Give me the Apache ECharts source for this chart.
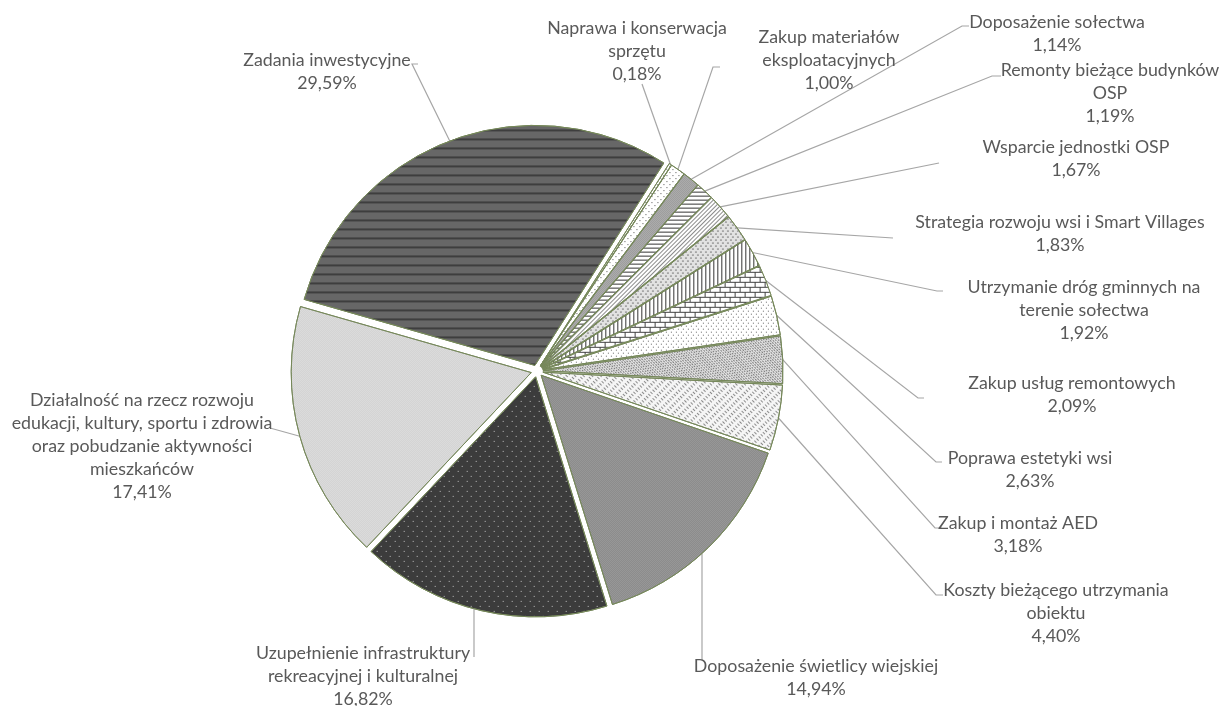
<!DOCTYPE html>
<html>
<head>
<meta charset="utf-8">
<script src="https://cdn.jsdelivr.net/npm/echarts@6/dist/echarts.min.js"></script>
<style>
html,body{margin:0;padding:0;background:#fff;}
#chart{width:1221px;height:706px;}
</style>
</head>
<body>
<div id="chart"></div>
<script>
// ---- data ----
const categories = [
  'Naprawa i konserwacja\nsprzętu',
  'Zakup materiałów\neksploatacyjnych',
  'Doposażenie sołectwa',
  'Remonty bieżące budynków\nOSP',
  'Wsparcie jednostki OSP',
  'Strategia rozwoju wsi i Smart Villages',
  'Utrzymanie dróg gminnych na\nterenie sołectwa',
  'Zakup usług remontowych',
  'Poprawa estetyki wsi',
  'Zakup i montaż AED',
  'Koszty bieżącego utrzymania\nobiektu',
  'Doposażenie świetlicy wiejskiej',
  'Uzupełnienie infrastruktury\nrekreacyjnej i kulturalnej',
  'Działalność na rzecz rozwoju\nedukacji, kultury, sportu i zdrowia\noraz pobudzanie aktywności\nmieszkańców',
  'Zadania inwestycyjne'
];
const values = [0.18, 1.00, 1.14, 1.19, 1.67, 1.83, 1.92, 2.09, 2.63, 3.18, 4.40, 14.94, 16.82, 17.41, 29.59];

// ---- layout (label placement, annotation only) ----
const CX = 537, CY = 371, R = 240, EXPLODE = 6, FIRST_ANGLE = 32.5; // degrees clockwise from 12 o'clock
const LH = 23;
const labelPos = [ // [centre x, first-line centre y]
  [637, 28], [829, 37], [1057, 22], [1110, 70], [1076, 147], [1060, 222], [1084, 287],
  [1072, 383], [1030, 458], [1018, 523], [1056, 590], [816, 666], [363, 653], [142, 400], [327, 60]
];
const leaderEnd = [ // [x, y, horizontal tick, mode]
  [642, 84, 0], [713, 67, 7], [962, 26, 7], [992, 76, 9], [939, 163, 0], [893, 238, 0], [937, 291, 6],
  [918, 398, 6], [936, 462, 6], [935, 528, 7], [936, 595, 7], [702, 660, 0, 'v'], [474, 657, 0, 'v'],
  [270, 428, 0], [412, 64, 6]
];

// ---- styles ----
const GREEN = '#76885a';
const fills = [
  { bg: '#ffffff', decal: { color: '#777', dashArrayX: [1, 2], dashArrayY: [1, 2] } },
  { bg: '#ffffff', decal: { color: '#555', dashArrayX: [[1, 5], [0, 3, 1, 2]], dashArrayY: [1, 2] } },
  { bg: '#cfcfcf', decal: { color: '#7a7a7a', dashArrayX: [[1, 1], [0, 1, 1, 0]], dashArrayY: [1, 0] } },
  { bg: '#ffffff', decal: { color: '#333', symbolKeepAspect: false, dashArrayX: [8, 0], dashArrayY: [1, 3] } },
  { bg: '#ffffff', decal: { color: '#8a8a8a', symbolKeepAspect: false, dashArrayX: [8, 0], dashArrayY: [1, 2], rotation: -Math.PI / 4 } },
  { bg: '#e2e2e2', decal: { color: '#777', dashArrayX: [[2, 3], [0, 2, 2, 1]], dashArrayY: [1, 2] } },
  { bg: '#ffffff', decal: { color: '#333', symbolKeepAspect: false, dashArrayX: [1, 3], dashArrayY: [8, 0] } },
  { bg: '#444444', decal: { color: '#ffffff', symbolKeepAspect: false, dashArrayX: [[9, 1], [4, 1, 5, 0]], dashArrayY: [4, 1] } },
  { bg: '#ffffff', decal: { color: '#666', dashArrayX: [[1, 4], [0, 2, 1, 2]], dashArrayY: [1, 2] } },
  { bg: '#e2e2e2', decal: { color: '#808080', symbolKeepAspect: false, dashArrayX: [[2, 1], [0, 1, 2, 0]], dashArrayY: [1, 1], rotation: Math.PI / 4 } },
  { bg: '#f5f5f5', decal: { color: '#8c8c8c', symbolKeepAspect: false, dashArrayX: [3, 3], dashArrayY: [1, 2], rotation: Math.PI / 4 } },
  { bg: '#a8a8a8', decal: { color: '#7c7c7c', dashArrayX: [[1, 1], [0, 1, 1, 0]], dashArrayY: [1, 0] } },
  { bg: '#3c3c3c', decal: { color: '#c4c4c4', dashArrayX: [[1, 8], [0, 4, 1, 4]], dashArrayY: [1, 4] } },
  { bg: '#f2f2f2', decal: { color: '#bdbdbd', dashArrayX: [[1, 1], [0, 1, 1, 0]], dashArrayY: [1, 0] } },
  { bg: '#676767', decal: { color: '#3e3e3e', symbolKeepAspect: false, dashArrayX: [8, 0], dashArrayY: [2, 7] } }
];

const total = values.reduce((a, b) => a + b, 0);
function midAngle(i) {
  let c = 0;
  for (let k = 0; k < i; k++) c += values[k];
  c += values[i] / 2;
  return (FIRST_ANGLE + c / total * 360) * Math.PI / 180;
}
function fmt(v) { return v.toFixed(2).replace('.', ',') + '%'; }

const sliceData = values.map((v, i) => ({
  name: categories[i], value: v, selected: true,
  itemStyle: { color: fills[i].bg, decal: Object.assign({ symbol: 'rect', symbolSize: 1 }, fills[i].decal) }
}));
const labelData = values.map((v, i) => ({ name: categories[i], value: v }));

const chart = echarts.init(document.getElementById('chart'), null, { renderer: 'canvas' });
chart.setOption({
  backgroundColor: '#ffffff',
  animation: false,
  series: [
    {
      type: 'pie',
      center: [CX, CY],
      radius: R,
      startAngle: 90 - FIRST_ANGLE,
      clockwise: true,
      selectedMode: 'multiple',
      selectedOffset: EXPLODE,
      avoidLabelOverlap: false,
      itemStyle: { borderColor: GREEN, borderWidth: 1 },
      select: { itemStyle: { borderColor: GREEN, borderWidth: 1 } },
      emphasis: { disabled: true },
      label: { show: false },
      labelLine: { show: false },
      data: sliceData
    },
    {
      type: 'pie',
      silent: true,
      center: [CX, CY],
      radius: 20,
      startAngle: 90 - FIRST_ANGLE,
      clockwise: true,
      avoidLabelOverlap: false,
      itemStyle: { color: 'rgba(0,0,0,0)', borderWidth: 0 },
      emphasis: { disabled: true },
      label: {
        show: true,
        position: 'outside',
        formatter: p => categories[p.dataIndex] + '\n' + fmt(values[p.dataIndex]),
        color: '#595959',
        fontFamily: 'Lato, "Open Sans", sans-serif',
        fontSize: 17.8,
        lineHeight: LH,
        align: 'center'
      },
      labelLine: { show: true, length: 0, length2: 0, lineStyle: { color: '#a6a6a6', width: 1.2 } },
      labelLayout: function (p) {
        const i = p.dataIndex;
        const pos = labelPos[i];
        const ld = leaderEnd[i];
        const a = midAngle(i);
        let start;
        if (ld[3] === 'v') {
          const scx = CX + EXPLODE * Math.sin(a), scy = CY - EXPLODE * Math.cos(a);
          const dx = ld[0] - scx;
          start = [ld[0], scy + Math.sqrt(R * R - dx * dx)];
        } else {
          start = [CX + (R + EXPLODE) * Math.sin(a), CY - (R + EXPLODE) * Math.cos(a)];
        }
        return {
          x: pos[0], y: pos[1] - LH / 2, align: 'center', verticalAlign: 'top',
          labelLinePoints: [start, [ld[0], ld[1]], [ld[0] + ld[2], ld[1]]]
        };
      },
      data: labelData
    }
  ]
});
</script>
</body>
</html>
